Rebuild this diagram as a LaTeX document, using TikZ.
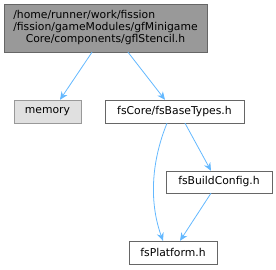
\documentclass[tikz,border=0pt]{standalone}
\usepackage{fontspec}
\setmainfont{DejaVu Sans}
\usepackage{tikz}
\usetikzlibrary{arrows.meta}
\definecolor{EdgeBlue}{HTML}{63B8FF}
\definecolor{TopFill}{HTML}{999999}
\definecolor{TopLine}{HTML}{666666}
\definecolor{SysFill}{HTML}{E0E0E0}
\definecolor{SysLine}{HTML}{999999}
\definecolor{FileLine}{HTML}{666666}

\begin{document}
\begin{tikzpicture}[x=1pt, y=-1pt, >={Stealth[length=8pt,width=7pt]},
  every node/.style={font=\fontsize{10.8}{11.6}\selectfont, inner sep=0pt, anchor=center},
  rootbox/.style={draw=TopLine, fill=TopFill, minimum width=203pt, minimum height=48pt},
  sysbox/.style={draw=SysLine, fill=SysFill, minimum height=23pt},
  filebox/.style={draw=FileLine, fill=white, minimum height=23pt},
  dep/.style={->, EdgeBlue, line width=0.8pt}]
  \useasboundingbox (0,0) rectangle (276,269);
  % nodes
  \node[rootbox] (stencil) at (105.5,28) {\begin{tabular}{@{}l@{}}/home/runner/work/fission\\/fission/gameModules/gfMinigame\\\multicolumn{1}{@{}c@{}}{Core/components/gflStencil.h}\end{tabular}};
  \node[sysbox, minimum width=67pt] (memory) at (47.5,111.5) {memory};
  \node[filebox, minimum width=139pt] (basetypes) at (174.5,111.5) {fsCore/fsBaseTypes.h};
  \node[filebox, minimum width=106pt, minimum height=22pt] (buildcfg) at (219,182) {fsBuildConfig.h};
  \node[filebox, minimum width=88pt] (platform) at (173,252.5) {fsPlatform.h};
  % edges
  \draw[dep] (stencil.south -| 92,0) -- (memory.north -| 60,0);
  \draw[dep] (stencil.south -| 128,0) -- (basetypes.north -| 165,0);
  \draw[dep] (basetypes.south -| 167,0) .. controls (150,165) and (150,205) .. (platform.north -| 163,0);
  \draw[dep] (basetypes.south -| 185,0) -- (buildcfg.north -| 211,0);
  \draw[dep] (buildcfg.south -| 211,0) -- (platform.north -| 180,0);
\end{tikzpicture}
\end{document}
